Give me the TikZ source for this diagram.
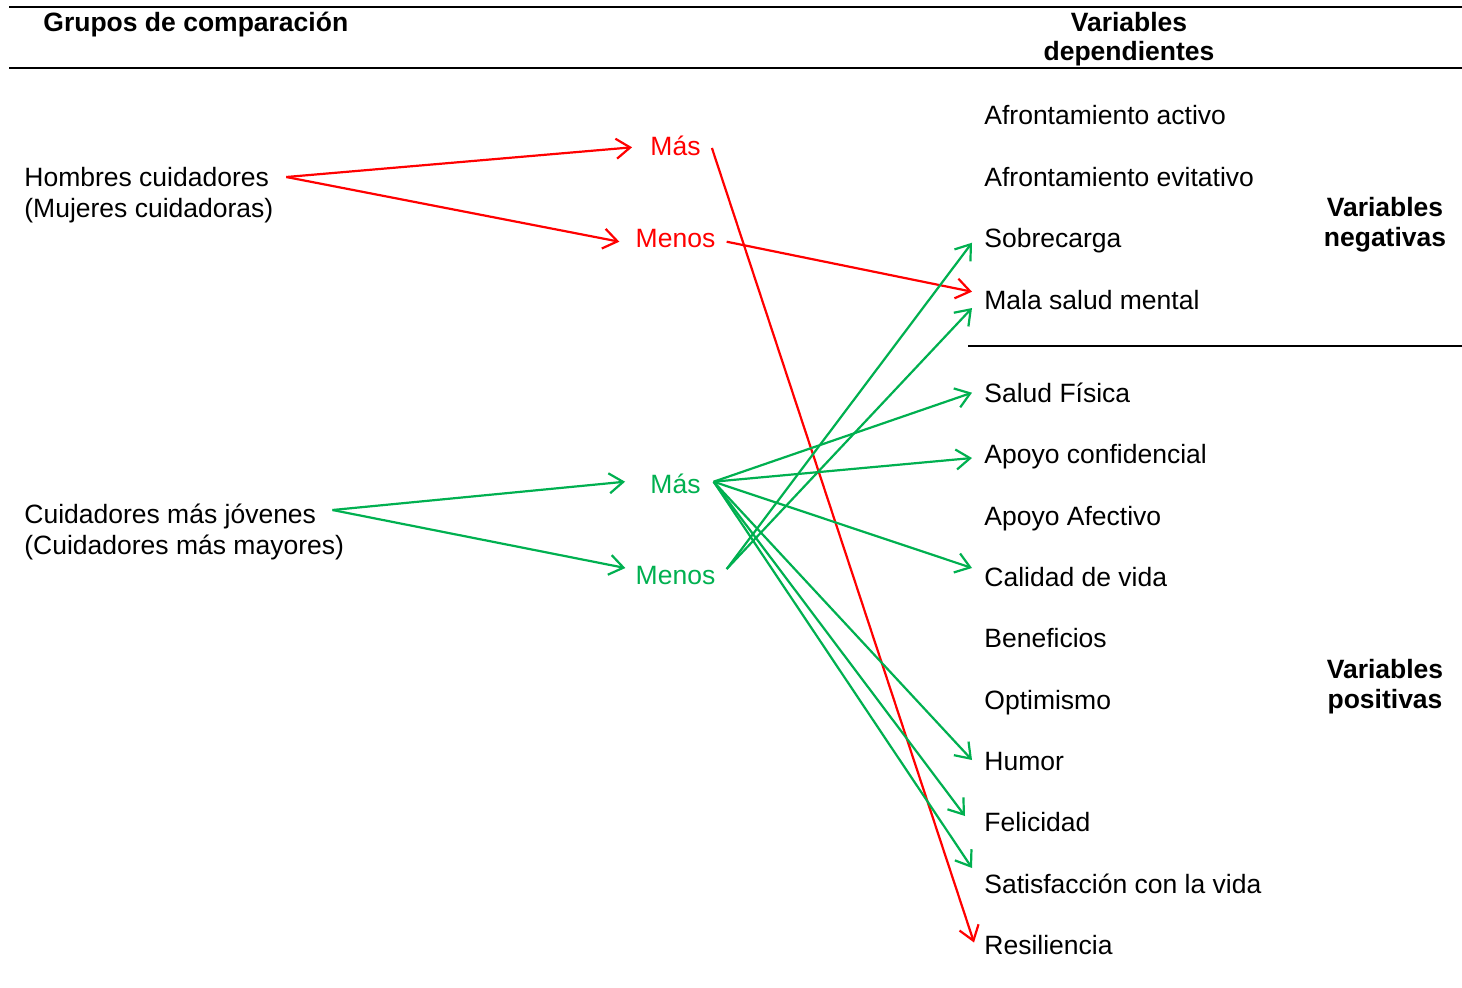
\documentclass[tikz,border=0pt]{standalone}
\usepackage{fontspec}
\setmainfont{Liberation Sans}
\usetikzlibrary{arrows.meta,calc}
\definecolor{plusred}{RGB}{255,0,0}
\definecolor{plusgreen}{RGB}{0,176,80}
\begin{document}
\begin{tikzpicture}[x=0.5pt,y=-0.5pt,
  lbl/.style={font=\fontsize{13.25}{15.5}\selectfont, inner sep=0pt,
    text height=9.5pt, text depth=0pt},
  hdr/.style={lbl, font=\fontsize{13.25}{15.5}\selectfont\bfseries},
  rule/.style={line width=1pt},
  link/.style={line width=1.1pt, -{Straight Barb[length=7pt,width=10pt]}},
]
\useasboundingbox[fill=white] (0,0) rectangle (1462,987);

% table rules
\draw[rule] (9,6.5) -- (1462,6.5);
\draw[rule] (9,68) -- (1462,68);
\draw[rule] (968,346) -- (1462,346);

% headers
\node[hdr,anchor=west] (hdrgroups) at (43,22) {Grupos de comparación};
\node[hdr] (hdrvars) at (1129,21.5) {Variables};
\node[hdr] (hdrdep) at (1129,51) {dependientes};
\node[hdr] (negvar) at (1385,207) {Variables};
\node[hdr] (negvar2) at (1385,237) {negativas};
\node[hdr] (posvar) at (1385,669) {Variables};
\node[hdr] (posvar2) at (1385,699) {positivas};

% comparison groups
\node[lbl,anchor=west] (hombres) at (24,177) {Hombres cuidadores};
\node[lbl,anchor=west] (mujeres) at (24,208) {(Mujeres cuidadoras)};
\node[lbl,anchor=west] (jovenes) at (24,514) {Cuidadores más jóvenes};
\node[lbl,anchor=west] (mayores) at (24,545) {(Cuidadores más mayores)};

% direction of the difference
\node[lbl,text=plusred] (rmas) at (675.5,145.5) {Más};
\node[lbl,text=plusred] (rmenos) at (675.5,238) {Menos};
\node[lbl,text=plusgreen] (gmas) at (675.5,484) {Más};
\node[lbl,text=plusgreen] (gmenos) at (675.5,575) {Menos};

% dependent variables
\foreach \nm/\yy/\txt in {
  afact/115/Afrontamiento activo,
  afevi/177/Afrontamiento evitativo,
  sobrec/238/Sobrecarga,
  malasalud/300/Mala salud mental,
  saludfis/393/Salud Física,
  apconf/454/Apoyo confidencial,
  apafec/516/Apoyo Afectivo,
  calidad/577/Calidad de vida,
  benef/638/Beneficios,
  optim/700/Optimismo,
  humor/761/Humor,
  felic/822/Felicidad,
  satisf/884/Satisfacción con la vida,
  resil/945/Resiliencia}
  \node[lbl,anchor=west] (\nm) at (984,\yy) {\txt};

% gender comparison
\draw[link,plusred] ($(hombres.east)+(17,0)$) -- ($(rmas.west)+(-18,1.8)$);
\draw[link,plusred] ($(hombres.east)+(17,0)$) -- ($(rmenos.west)+(-16,3.7)$);
\draw[link,plusred] ($(rmas.east)+(11,2.5)$) -- ($(resil.west)+(-10,-2.5)$);
\draw[link,plusred] ($(rmenos.east)+(11,3.7)$) -- ($(malasalud.west)+(-12,-8.3)$);

% age comparison
\draw[link,plusgreen] ($(jovenes.east)+(16,-4)$) -- ($(gmas.west)+(-25,-2.3)$);
\draw[link,plusgreen] ($(jovenes.east)+(16,-4)$) -- ($(gmenos.west)+(-10,-7)$);
\foreach \tg/\dx/\dy in {saludfis/-12/-0.3, apconf/-12/4, calidad/-12/-9,
                         humor/-12/-1, felic/-19/-6, satisf/-12/-16}
  \draw[link,plusgreen] ($(gmas.east)+(12.7,-2.3)$) -- ($(\tg.west)+(\dx,\dy)$);
\foreach \tg/\dy in {sobrec/4.7, malasalud/8}
  \draw[link,plusgreen] ($(gmenos.east)+(11,-6)$) -- ($(\tg.west)+(-12,\dy)$);
\end{tikzpicture}
\end{document}
